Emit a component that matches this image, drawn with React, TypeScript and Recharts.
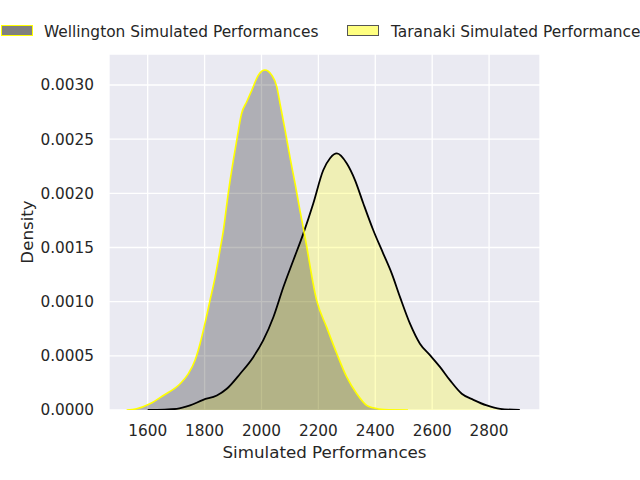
import React from 'react';
import { AreaChart, Area, XAxis, YAxis, CartesianGrid, Label } from 'recharts';

const wellingtonX = [1526, 1561, 1608, 1655, 1714, 1743, 1766, 1784, 1801, 1819, 1837, 1854, 1866, 1883, 1901, 1915, 1930, 1948, 1966, 1989, 2012, 2036, 2054, 2065, 2083, 2100, 2118, 2135, 2153, 2194, 2229, 2265, 2300, 2335, 2370, 2393, 2430, 2515];
const wellingtonDensity = [0, 0.000011, 0.000057, 0.000134, 0.000242, 0.000335, 0.000457, 0.000612, 0.000797, 0.001012, 0.001227, 0.001474, 0.001659, 0.001998, 0.002306, 0.002521, 0.002737, 0.002845, 0.002953, 0.003091, 0.003138, 0.003091, 0.002983, 0.00283, 0.002583, 0.002336, 0.002091, 0.001845, 0.001597, 0.001012, 0.000765, 0.000519, 0.000303, 0.00015, 0.000042, 0.00002, 0.000004, 0];

const taranakiX = [1600, 1702, 1749, 1795, 1843, 1878, 1925, 1971, 2006, 2042, 2077, 2112, 2147, 2182, 2217, 2241, 2265, 2300, 2329, 2358, 2393, 2428, 2458, 2487, 2522, 2557, 2593, 2628, 2663, 2704, 2745, 2792, 2839, 2908];
const taranakiDensity = [0, 0.000011, 0.000042, 0.000094, 0.000134, 0.000196, 0.000335, 0.000488, 0.000642, 0.000858, 0.001135, 0.001382, 0.001628, 0.001906, 0.002213, 0.002324, 0.002368, 0.002275, 0.00212, 0.001906, 0.001659, 0.001444, 0.001259, 0.001042, 0.000797, 0.000612, 0.000504, 0.000396, 0.000273, 0.00015, 0.000094, 0.000042, 0.000011, 0];

const xTicks = [1600, 1800, 2000, 2200, 2400, 2600, 2800];
const yTicks = [0, 0.0005, 0.001, 0.0015, 0.002, 0.0025, 0.003];
const legendLabels = ['Wellington Simulated Performances', 'Taranaki Simulated Performance'];

const wellingtonData = wellingtonX.map((x, i) => ({ x, density: wellingtonDensity[i] }));
const taranakiData = taranakiX.map((x, i) => ({ x, density: taranakiDensity[i] }));

const FONT = '"DejaVu Sans", sans-serif';
const TEXT = '#262626';

export default function App() {
  return (
    <div style={{ position: 'absolute', left: 0, top: 0, width: 640, height: 480, background: '#fff', overflow: 'hidden' }}>
      <AreaChart width={640} height={480} margin={{ top: 54, right: 100, bottom: 0, left: 0 }}>
        <CartesianGrid fill="#EAEAF2" fillOpacity={1} stroke="#ffffff" strokeWidth={1.3} />
        <XAxis
          type="number"
          dataKey="x"
          domain={[1464, 2979]}
          ticks={xTicks}
          allowDataOverflow
          height={70}
          axisLine={false}
          tickLine={false}
          tickSize={0}
          tickMargin={15}
          tick={{ fill: TEXT, fontSize: 15.3, fontFamily: FONT }}
        >
          <Label value="Simulated Performances" position="insideBottom" offset={22} fill={TEXT} fontSize={16.7} fontFamily={FONT} />
        </XAxis>
        <YAxis
          type="number"
          domain={[0, 0.003286]}
          ticks={yTicks}
          allowDataOverflow
          width={109}
          axisLine={false}
          tickLine={false}
          tickSize={0}
          tickMargin={15}
          tickFormatter={(v: number) => v.toFixed(4)}
          tick={{ fill: TEXT, fontSize: 15.3, fontFamily: FONT }}
        >
          <Label value="Density" angle={-90} position="insideLeft" offset={27} fill={TEXT} fontSize={16.7} fontFamily={FONT} style={{ textAnchor: 'middle' }} />
        </YAxis>
        <Area
          data={taranakiData}
          dataKey="density"
          type="monotone"
          stroke="#000000"
          strokeWidth={1.8}
          fill="#ffff00"
          fillOpacity={0.25}
          isAnimationActive={false}
          dot={false}
          activeDot={false}
        />
        <Area
          data={wellingtonData}
          dataKey="density"
          type="monotone"
          stroke="#ffff00"
          strokeWidth={1.6}
          fill="#000000"
          fillOpacity={0.25}
          isAnimationActive={false}
          dot={false}
          activeDot={false}
        />
      </AreaChart>
      <svg width={640} height={50} style={{ position: 'absolute', left: 0, top: 0 }}>
        <rect x={1.5} y={25.5} width={31} height={10} fill="#808080" stroke="#ffff00" strokeWidth={1} />
        <text x={44} y={36.5} fill={TEXT} fontSize={15.4} fontFamily={FONT}>{legendLabels[0]}</text>
        <rect x={347.5} y={25.5} width={31} height={10} fill="#ffff80" stroke="#555555" strokeWidth={1} />
        <text x={391} y={36.5} fill={TEXT} fontSize={15.4} fontFamily={FONT}>{legendLabels[1]}</text>
      </svg>
    </div>
  );
}
